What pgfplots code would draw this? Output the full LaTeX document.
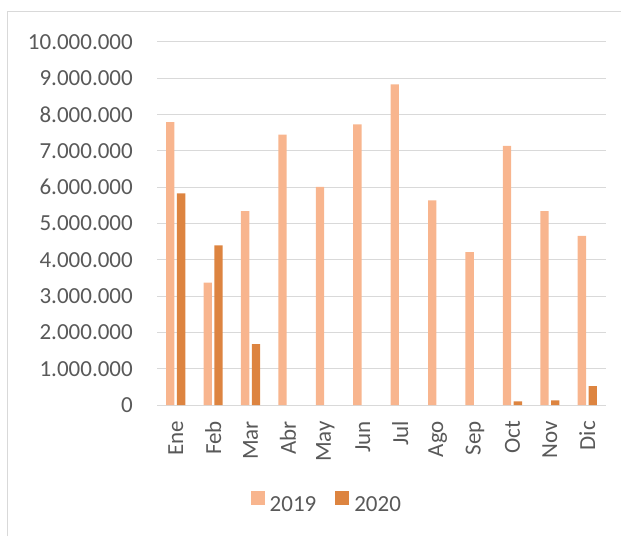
\documentclass[border=0pt]{standalone}
\usepackage{pgfplots}
\pgfplotsset{compat=1.18}
\usepackage{fontspec}
\setmainfont{Carlito}
\definecolor{c19}{HTML}{F8B58E}
\definecolor{c20}{HTML}{DD8440}
\definecolor{gridc}{HTML}{D9D9D9}
\definecolor{txt}{HTML}{595959}
\begin{document}
\fontsize{23}{27}\selectfont
\begin{tikzpicture}[x=1pt,y=1pt]
\path[use as bounding box] (0,0) rectangle (621,536);
\draw[gridc, line width=1pt] (7.5,0) -- (7.5,524) -- (621,524);
\begin{axis}[
  at={(157pt,131pt)}, anchor=south west, scale only axis,
  width=449pt, height=363pt,
  xmin=-0.5, xmax=11.5, ymin=0, ymax=10000000,
  scaled y ticks=false,
  ybar, bar width=8.3pt,
  axis line style={draw=none},
  major tick length=0pt,
  ymajorgrids, grid style={gridc, line width=1pt},
  ytick={0,1000000,2000000,3000000,4000000,5000000,6000000,7000000,8000000,9000000,10000000},
  yticklabels={0,1.000.000,2.000.000,3.000.000,4.000.000,5.000.000,6.000.000,7.000.000,8.000.000,9.000.000,10.000.000},
  xtick={0,1,2,3,4,5,6,7,8,9,10,11},
  xticklabels={Ene,Feb,Mar,Abr,May,Jun,Jul,Ago,Sep,Oct,Nov,Dic},
  tick label style={font=\fontsize{23}{27}\selectfont, text=txt},
  yticklabel style={anchor=east, inner sep=0pt, xshift=-24pt},
  xticklabel style={rotate=90, anchor=east, inner sep=0pt},
  xticklabel shift=16pt,
  legend columns=2,
  legend style={at={(0.376,-0.27)}, anchor=center, draw=none, fill=none,
    font=\fontsize{23}{27}\selectfont, text=txt, nodes={inner sep=0pt},
    /tikz/every odd column/.append style={column sep=5pt},
    /tikz/every even column/.append style={column sep=19pt}},
]
\addplot[fill=c19, draw=none, bar shift=-5.4pt,
  legend image code/.code={\fill[c19] (0pt,0pt) rectangle (14pt,14pt);}]
  coordinates {(0,7790000) (1,3370000) (2,5340000) (3,7450000) (4,6010000) (5,7730000)
               (6,8830000) (7,5640000) (8,4210000) (9,7140000) (10,5340000) (11,4660000)};
\addlegendentry{2019}
\addplot[fill=c20, draw=none, bar shift=5.4pt,
  legend image code/.code={\fill[c20] (0pt,0pt) rectangle (14pt,14pt);}]
  coordinates {(0,5830000) (1,4400000) (2,1680000) (9,100000) (10,130000) (11,520000)};
\addlegendentry{2020}
\end{axis}
\end{tikzpicture}
\end{document}
